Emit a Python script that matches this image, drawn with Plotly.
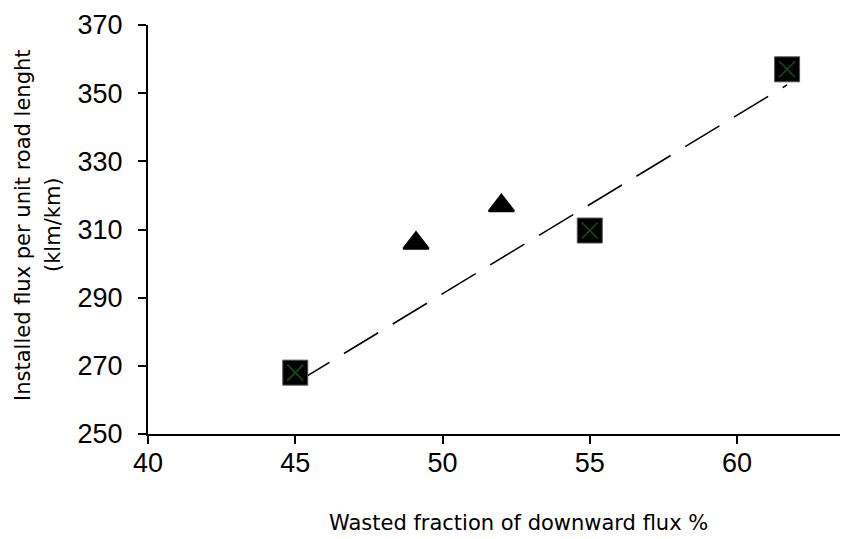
import numpy as np
import plotly.graph_objects as go

# Data
square_x = [45.0, 55.0, 61.7]
square_y = [268.0, 309.7, 357.0]
triangle_x = [49.1, 52.0]
triangle_y = [306.0, 317.0]

x_ticks = [40, 45, 50, 55, 60]
y_ticks = [250, 270, 290, 310, 330, 350, 370]

x_title = "Wasted fraction of downward flux %"
y_title_1 = "Installed flux per unit road lenght"
y_title_2 = "(klm/km)"

# Linear trend through the square series
slope, intercept = np.polyfit(square_x, square_y, 1)
trend_x = [min(square_x), max(square_x)]
trend_y = [slope * v + intercept for v in trend_x]

fig = go.Figure()
fig.add_trace(go.Scatter(
    x=trend_x, y=trend_y, mode="lines",
    line=dict(color="black", width=1.6, dash="40px,17px"),
    hoverinfo="skip", showlegend=False))
fig.add_trace(go.Scatter(
    x=triangle_x, y=triangle_y, mode="markers",
    marker=dict(symbol="triangle-up", size=22, color="black",
                line=dict(color="black", width=2)),
    showlegend=False))
fig.add_trace(go.Scatter(
    x=square_x, y=square_y, mode="markers",
    marker=dict(symbol="square", size=25, color="black",
                line=dict(color="#555555", width=1)),
    showlegend=False))
fig.add_trace(go.Scatter(
    x=square_x, y=square_y, mode="markers",
    marker=dict(symbol="x-thin-open", size=16, color="#1a4d1a",
                line=dict(color="#1a4d1a", width=1.5)),
    hoverinfo="skip", showlegend=False))

tick_font = "Liberation Sans, Arial, sans-serif"
title_font = "DejaVu Sans, Verdana, sans-serif"

# The page body has an 8px default margin; compensate so the figure fills 848x539
OFF = 8
W, H = 848 - OFF, 539 - OFF
L, R, T, B = 148 - OFF, 2, 25 - OFF, 539 - 434
pw, ph = W - L - R, H - T - B


def px_x(page_x):
    return (page_x - OFF - L) / pw


def px_y(page_y):
    return (H - B - (page_y - OFF)) / ph


fig.update_layout(
    width=W, height=H,
    margin=dict(l=L, r=R, t=T, b=B),
    paper_bgcolor="white", plot_bgcolor="white",
    font=dict(family=tick_font, color="black"),
    xaxis=dict(
        range=[40, 63.7], tickvals=x_ticks, ticktext=[str(v) for v in x_ticks],
        showgrid=False, zeroline=False, showline=True, linecolor="black", linewidth=2,
        ticks="outside", ticklen=8, tickwidth=2, tickcolor="black",
        tickfont=dict(size=27, family=tick_font), ticklabelstandoff=-4,
        automargin=False,
    ),
    yaxis=dict(
        range=[250, 370], tickvals=y_ticks, ticktext=[str(v) for v in y_ticks],
        showgrid=False, zeroline=False, showline=True, linecolor="black", linewidth=2,
        ticks="outside", ticklen=8, tickwidth=2, tickcolor="black",
        tickfont=dict(size=27, family=tick_font), ticklabelstandoff=10,
        automargin=False,
    ),
    annotations=[
        dict(text=x_title, xref="paper", yref="paper",
             x=px_x(518), y=px_y(523),
             xanchor="center", yanchor="middle", showarrow=False,
             font=dict(size=21, family=title_font)),
        dict(text=y_title_1, xref="paper", yref="paper",
             x=px_x(23), y=px_y(225), textangle=-90,
             xanchor="center", yanchor="middle", showarrow=False,
             font=dict(size=21, family=title_font)),
        dict(text=y_title_2, xref="paper", yref="paper",
             x=px_x(53), y=px_y(225), textangle=-90,
             xanchor="center", yanchor="middle", showarrow=False,
             font=dict(size=21, family=title_font)),
    ],
)

fig.write_html("out.html")
